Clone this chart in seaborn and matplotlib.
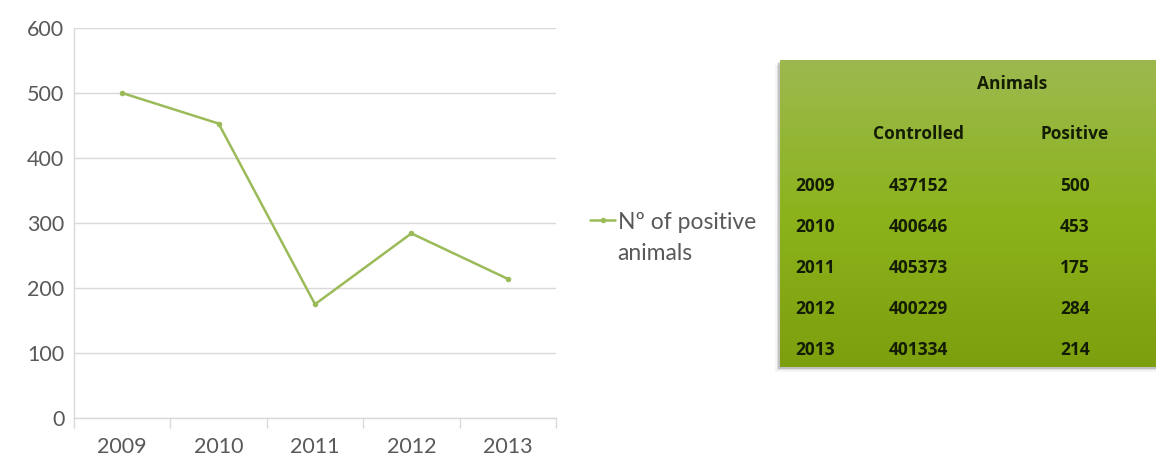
import numpy as np
import pandas as pd
import matplotlib
matplotlib.use("Agg")
import matplotlib.pyplot as plt
from matplotlib.colors import LinearSegmentedColormap
from matplotlib.patches import Rectangle
import seaborn as sns

# Data
years = ["2009", "2010", "2011", "2012", "2013"]
positive = [500, 453, 175, 284, 214]
controlled = [437152, 400646, 405373, 400229, 401334]
series_label = ["Nº of positive", "animals"]

sns.set_theme(style="white")
plt.rcParams["font.family"] = ["Lato", "DejaVu Sans"]

LINE = "#9bbb59"
GRID = "#d9d9d9"
TEXT = "#595959"
FS = 15.5

W, H = 1156, 459
fig = plt.figure(figsize=(W / 100, H / 100), dpi=100)
ax = fig.add_axes([74 / W, 1 - 418 / H, (556 - 74) / W, (418 - 28) / H])

df = pd.DataFrame({"year": years, "positive": positive})
df["pos"] = np.arange(len(years))
sns.lineplot(data=df, x="pos", y="positive", ax=ax, color=LINE, linewidth=1.8,
             marker="o", markersize=4, markeredgewidth=0, label=series_label[0])

ax.set_xlim(-0.5, len(years) - 0.5)
ax.set_ylim(0, 600)
ax.set_yticks(range(0, 601, 100))
ax.set_xticks(np.arange(len(years)))
ax.set_xticklabels(years)
ax.set_xticks(np.arange(len(years) + 1) - 0.5, minor=True)
ax.set_xlabel("")
ax.set_ylabel("")
ax.yaxis.grid(True, color=GRID, linewidth=1)
ax.xaxis.grid(False)
for s in ["top", "right"]:
    ax.spines[s].set_visible(False)
for s in ["left", "bottom"]:
    ax.spines[s].set_color(GRID)
    ax.spines[s].set_linewidth(1)
ax.tick_params(axis="x", which="major", length=0, pad=14, labelsize=FS, labelcolor=TEXT)
ax.tick_params(axis="x", which="minor", length=7, color=GRID, width=1, bottom=True)
ax.tick_params(axis="y", length=0, pad=7, labelsize=FS, labelcolor=TEXT)

# Legend beside the plot: handle on the first line, second line underneath
LFS = 16.5
leg = ax.legend(loc="center left", bbox_to_anchor=(590 / W, 1 - 222 / H),
                bbox_transform=fig.transFigure, frameon=False, fontsize=LFS,
                handlelength=1.1, handletextpad=0.1, borderpad=0, borderaxespad=0,
                labelcolor=TEXT)
fig.canvas.draw()
t0 = leg.get_texts()[0]
bb = t0.get_window_extent()
fig.text(bb.x0 / W, 1 - 254 / H, series_label[1], ha="left", va="center",
         fontsize=LFS, color=TEXT)

# Summary table panel with vertical green gradient and a soft shadow
tx0, ty0 = 780 / W, 1 - 367 / H
tw, th = 1 - tx0, (367 - 60) / H
for i, a in enumerate([0.14, 0.08, 0.04]):
    d = (i + 1) * 1.6
    fig.patches.append(Rectangle((tx0 - d / W, ty0 - d / H), tw + d / W, th,
                                 transform=fig.transFigure, facecolor="#000000",
                                 alpha=a, edgecolor="none", zorder=-5))
tax = fig.add_axes([tx0, ty0, tw, th], zorder=2)
cmap = LinearSegmentedColormap.from_list("panel", ["#9cb94f", "#8cb31c", "#7c9f0e"])
tax.imshow(np.linspace(0, 1, 256).reshape(-1, 1), aspect="auto", cmap=cmap,
           extent=[0, 1, 0, 1], origin="upper")
tax.set_xlim(0, 1)
tax.set_ylim(0, 1)
tax.axis("off")


def fx(px):
    return (px - 780) / (W - 780)


def fy(py):
    return (367 - py) / (367 - 60)


DARK = "#141c04"
TFS = 12.5
tkw = dict(va="center", fontsize=TFS, fontweight="bold", color=DARK,
           family=["Open Sans", "DejaVu Sans"])
tax.text(fx(1012), fy(84), "Animals", ha="center", **tkw)
tax.text(fx(918), fy(134), "Controlled", ha="center", **tkw)
tax.text(fx(1075), fy(134), "Positive", ha="center", **tkw)
row_y = [186, 227, 268, 309, 350]
for yr, c, p, ry in zip(years, controlled, positive, row_y):
    tax.text(fx(795), fy(ry), yr, ha="left", **tkw)
    tax.text(fx(918), fy(ry), str(c), ha="center", **tkw)
    tax.text(fx(1075), fy(ry), str(p), ha="center", **tkw)

fig.savefig("out.png", dpi=100)
